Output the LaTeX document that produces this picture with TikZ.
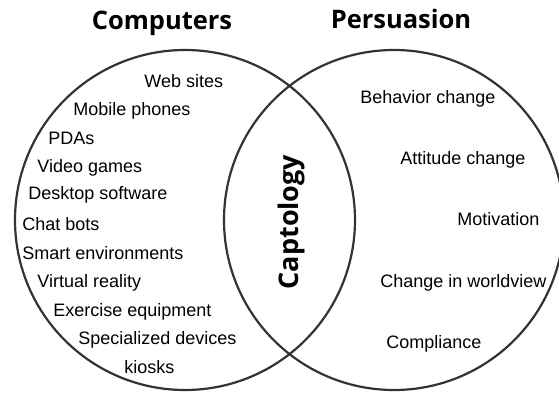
\documentclass[tikz,border=0pt]{standalone}
\usepackage{fontspec}
\setmainfont{Liberation Sans}
\newfontfamily\headfont{Open Sans}
\usetikzlibrary{positioning}

\begin{document}
\begin{tikzpicture}[x=1pt, y=-1pt, thick,
                    set node/.style= {circle,
                      draw=black!80,
                      line width=2.2pt,
                      minimum size=340pt,
                      inner sep=0pt},
                    head node/.style= {inner sep=0pt, anchor=base,
                      font=\headfont\bfseries\fontsize{25.5}{28}\selectfont},
                    item node/.style= {inner sep=0pt, anchor=base west,
                      font=\fontsize{18}{20}\selectfont}]

  \clip (0,0) rectangle (559,396);

  \node[set node] (computers) at (185,220) {};
  \node[set node] (persuasion) at (394,220) {};

  \node[head node] (head1) at (162,30) {Computers};
  \node[head node] (head2) at (401,29) {Persuasion};
  \node[head node, anchor=center, rotate=90,
        font=\headfont\bfseries\fontsize{27}{30}\selectfont] (captology) at (291,222) {Captology};

  \node[item node] (web) at (144,87) {Web sites};
  \node[item node] (mobile) at (73,115) {Mobile phones};
  \node[item node] (pda) at (48,144) {PDAs};
  \node[item node] (games) at (37,172) {Video games};
  \node[item node] (desktop) at (28,199) {Desktop software};
  \node[item node] (chat) at (22,230) {Chat bots};
  \node[item node] (smart) at (22,259) {Smart environments};
  \node[item node] (virtual) at (37,287) {Virtual reality};
  \node[item node] (exercise) at (53,316) {Exercise equipment};
  \node[item node] (special) at (78,344) {Specialized devices};
  \node[item node] (kiosk) at (124,373) {kiosks};

  \node[item node] (behavior) at (360,103) {Behavior change};
  \node[item node] (attitude) at (400,164) {Attitude change};
  \node[item node] (motivation) at (457,225) {Motivation};
  \node[item node] (worldview) at (380,287) {Change in worldview};
  \node[item node] (compliance) at (386,348) {Compliance};
\end{tikzpicture}
\end{document}
